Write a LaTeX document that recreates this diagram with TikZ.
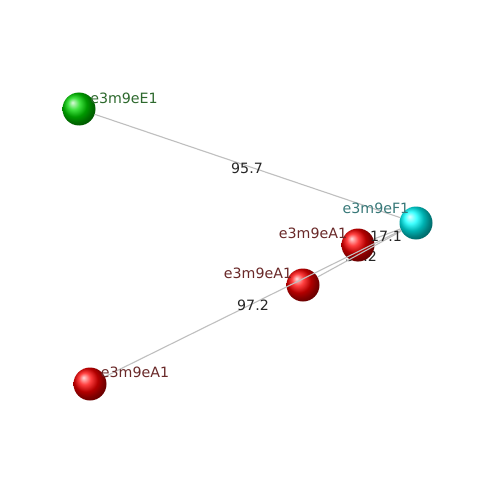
\documentclass[tikz,border=0pt]{standalone}
\usepackage{fontspec}
\setmainfont{DejaVu Sans}
\begin{document}
\begin{tikzpicture}[x=1pt,y=-1pt,
  ballnode/.style={circle,minimum size=33pt,inner sep=0pt},
  edgeline/.style={draw=gray!50,line width=1.1pt},
  edgelabel/.style={text=black!85,font=\fontsize{14.2}{16}\selectfont,inner sep=0pt},
  namelabel/.style={font=\fontsize{14.2}{16}\selectfont,inner sep=0pt}]
\useasboundingbox[fill=white] (0,0) rectangle (500,500);
\definecolor{lblgreen}{RGB}{45,105,45}
\definecolor{lblteal}{RGB}{55,120,120}
\definecolor{lblred}{RGB}{105,40,40}
% hidden edge label (under ball)
\node[edgelabel] (l4) at (361,256) {55.2};
% balls
\node[ballnode,ball color=green!85!black] (E1) at (79,109) {};
\node[ballnode,ball color=cyan] (F1) at (416,223) {};
\node[ballnode,ball color=red] (A1a) at (358,245) {};
\node[ballnode,ball color=red] (A1b) at (303,285) {};
\node[ballnode,ball color=red] (A1c) at (90,384) {};
% edges
\draw[edgeline] (E1) -- (F1);
\draw[edgeline] (A1c) -- (F1);
\draw[edgeline] (A1b) -- (F1);
\draw[edgeline] (A1a) -- (F1);
% edge labels
\node[edgelabel] (l1) at (247,168) {95.7};
\node[edgelabel] (l2) at (253,305) {97.2};
\node[edgelabel] (l3) at (386,236) {17.1};
% node labels
\node[namelabel,text=lblgreen] (tE1) at (124,98) {e3m9eE1};
\node[namelabel,text=lblteal] (tF1) at (376,208) {e3m9eF1};
\node[namelabel,text=lblred] (tA1a) at (313,233) {e3m9eA1};
\node[namelabel,text=lblred] (tA1b) at (258,273) {e3m9eA1};
\node[namelabel,text=lblred] (tA1c) at (135,372) {e3m9eA1};
\end{tikzpicture}
\end{document}
